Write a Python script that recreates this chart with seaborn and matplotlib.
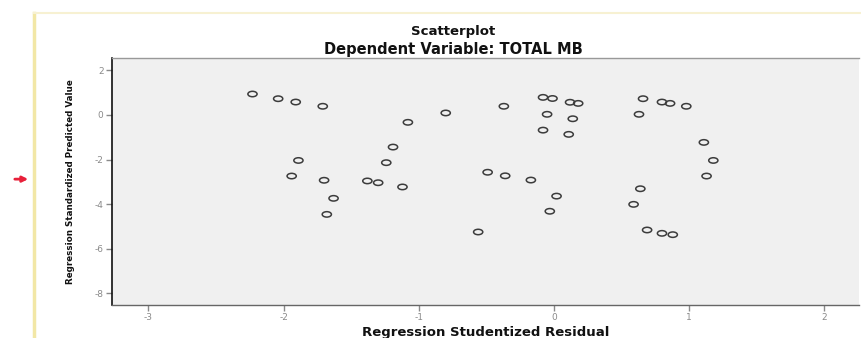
import numpy as np
import pandas as pd
import matplotlib
matplotlib.use("Agg")
import matplotlib.pyplot as plt
import matplotlib.path as mpath
import matplotlib.transforms as mtrans
import seaborn as sns

# valores (residuo studentizado x valor previsto padronizado)
residuo = [-2.23, -2.04, -1.91, -1.71, -1.08, -1.19, -1.89, -1.24, -1.94, -1.70,
           -1.38, -1.30, -1.12, -1.63, -1.68, -0.80, -0.37, -0.08, -0.01, 0.12,
           0.18, -0.05, 0.14, -0.08, 0.11, -0.49, -0.36, -0.17, 0.02, -0.03,
           0.66, 0.63, 0.64, 0.59, 0.80, 0.86, 0.98, 1.11, 1.18, 1.13,
           -0.56, 0.69, 0.80, 0.88]
previsto = [0.94, 0.73, 0.58, 0.39, -0.33, -1.44, -2.04, -2.14, -2.74, -2.93,
            -2.96, -3.04, -3.23, -3.74, -4.46, 0.09, 0.39, 0.79, 0.74, 0.57,
            0.52, 0.03, -0.17, -0.68, -0.87, -2.57, -2.73, -2.92, -3.64, -4.32,
            0.73, 0.03, -3.31, -4.01, 0.58, 0.52, 0.39, -1.23, -2.04, -2.74,
            -5.25, -5.16, -5.31, -5.37]

x_ticks = [-3, -2, -1, 0, 1, 2]
y_ticks = [2, 0, -2, -4, -6, -8]

df = pd.DataFrame({"residuo": residuo, "previsto": previsto})

# marcador em elipse (igual ao print, meio achatado)
circ = mpath.Path.unit_circle()
elipse = circ.transformed(mtrans.Affine2D().scale(1.7, 1.0))

fig = plt.figure(figsize=(8.61, 3.38), dpi=100)
fig.patch.set_facecolor("white")
ax = fig.add_axes([0.130, 0.098, 0.868, 0.730])
ax.set_facecolor("#f0f0f0")

sns.scatterplot(df, x="residuo", y="previsto", ax=ax, marker=elipse, s=44,
                facecolor="none", edgecolor="#3c3c3c", linewidth=1.1)

ax.set_xlim(-3.27, 2.26)
ax.set_ylim(-8.52, 2.55)
ax.set_xticks(x_ticks)
ax.set_yticks(y_ticks)
ax.set_xticklabels([str(t) for t in x_ticks])
ax.set_yticklabels([str(t) for t in y_ticks])
ax.tick_params(axis="both", direction="out", length=4, width=1, colors="#8a8a8a",
               labelsize=6.5, labelcolor="#8a8a8a", pad=2)

ax.spines["right"].set_visible(False)
ax.spines["left"].set_color("#111111")
ax.spines["left"].set_linewidth(1.2)
ax.spines["bottom"].set_color("#666666")
ax.spines["bottom"].set_linewidth(1.0)
ax.spines["top"].set_color("#999999")
ax.spines["top"].set_linewidth(1.0)

ax.set_xlabel("Regression Studentized Residual", fontsize=9.5, fontweight="bold",
              color="#111111", labelpad=3)
ax.set_ylabel("Regression Standardized Predicted Value", fontsize=6.3, fontweight="bold",
              color="#111111", labelpad=14)

fig.text(0.526, 0.908, "Scatterplot", ha="center", va="center", fontsize=9.5,
         fontweight="bold", color="#111111")
fig.text(0.526, 0.853, "Dependent Variable: TOTAL MB", ha="center", va="center",
         fontsize=10.5, fontweight="bold", color="#111111")

# moldura amarela e seta vermelha do print original
fig.add_artist(plt.Line2D([0.040, 0.040], [0.0, 0.962], color="#f2e7a6", lw=2.5))
fig.add_artist(plt.Line2D([0.040, 1.0], [0.962, 0.962], color="#f7f1d2", lw=1.5))
ax.annotate("", xy=(0.036, 0.470), xytext=(0.014, 0.470), xycoords="figure fraction",
            arrowprops=dict(arrowstyle="-|>", color="#e8203a", lw=2, mutation_scale=8))

plt.savefig("out.png", dpi=100)
